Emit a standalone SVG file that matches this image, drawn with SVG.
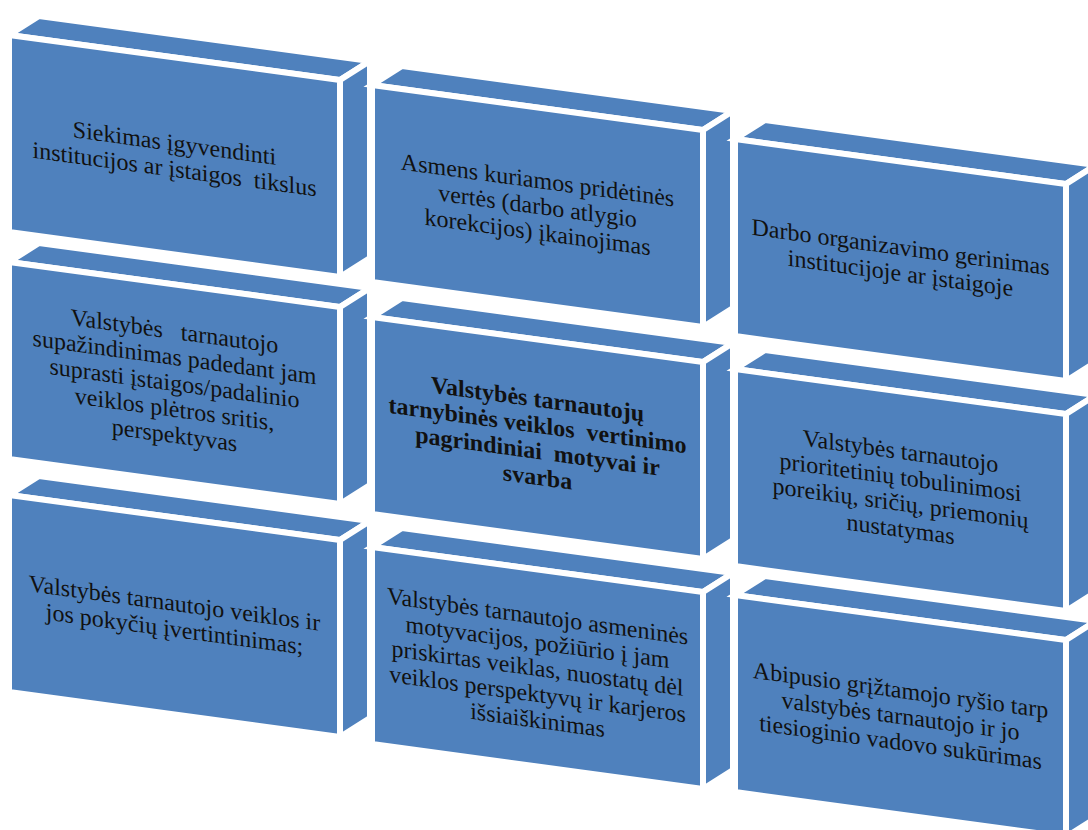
<svg xmlns="http://www.w3.org/2000/svg" xmlns:xlink="http://www.w3.org/1999/xlink" width="1088" height="830" viewBox="0 0 1088 830">
  <style>
    .face { fill: #4F81BD; stroke: #FFFFFF; stroke-width: 6; stroke-linejoin: miter; }
    .lbl { font-family: "Liberation Serif", "Times New Roman", serif; font-size: 24px; fill: #111111; text-anchor: middle; }
    .bold { font-weight: bold; }
  </style>
  <defs>
    <!-- 3D block: front face origin at its top-left corner, depth offset (30,-19) -->
    <g id="box">
      <polygon class="face" points="0,0 30,-19 361,26 331,45"/>
      <polygon class="face" points="331,45 361,26 361,223 331,242"/>
      <polygon class="face" points="0,0 331,45 331,242 0,197"/>
    </g>
  </defs>
  <rect width="1088" height="830" fill="#FFFFFF"/>

  <!-- row 1 -->
  <g id="node-1" transform="translate(9,35)">
    <use xlink:href="#box"/>
    <g transform="translate(165.5,121) skewY(7.74)">
      <text class="lbl"><tspan x="0" y="-5">Siekimas įgyvendinti</tspan><tspan x="0" y="21">institucijos ar įstaigos&#160; tikslus</tspan></text>
    </g>
  </g>
  <g id="node-2" transform="translate(372,85)">
    <use xlink:href="#box"/>
    <g transform="translate(165.5,121) skewY(7.74)">
      <text class="lbl"><tspan x="0" y="-18">Asmens kuriamos pridėtinės</tspan><tspan x="0" y="8">vertės (darbo atlygio</tspan><tspan x="0" y="34">korekcijos) įkainojimas</tspan></text>
    </g>
  </g>
  <g id="node-3" transform="translate(735,139)">
    <use xlink:href="#box"/>
    <g transform="translate(165.5,121) skewY(7.74)">
      <text class="lbl"><tspan x="0" y="-5">Darbo organizavimo gerinimas</tspan><tspan x="0" y="21">institucijoje ar įstaigoje</tspan></text>
    </g>
  </g>

  <!-- row 2 -->
  <g id="node-4" transform="translate(9,262)">
    <use xlink:href="#box"/>
    <g transform="translate(165.5,121) skewY(7.74)">
      <text class="lbl"><tspan x="0" y="-44">Valstybės&#160;&#160; tarnautojo</tspan><tspan x="0" y="-18">supažindinimas padedant jam</tspan><tspan x="0" y="8">suprasti įstaigos/padalinio</tspan><tspan x="0" y="34">veiklos plėtros sritis,</tspan><tspan x="0" y="60">perspektyvas</tspan></text>
    </g>
  </g>
  <g id="node-5" transform="translate(372,317)">
    <use xlink:href="#box"/>
    <g transform="translate(165.5,121) skewY(7.74)">
      <text class="lbl bold"><tspan x="0" y="-31">Valstybės tarnautojų</tspan><tspan x="0" y="-5">tarnybinės veiklos&#160; vertinimo</tspan><tspan x="0" y="21">pagrindiniai&#160; motyvai ir</tspan><tspan x="0" y="47">svarba</tspan></text>
    </g>
  </g>
  <g id="node-6" transform="translate(735,369)">
    <use xlink:href="#box"/>
    <g transform="translate(165.5,121) skewY(7.74)">
      <text class="lbl"><tspan x="0" y="-31">Valstybės tarnautojo</tspan><tspan x="0" y="-5">prioritetinių tobulinimosi</tspan><tspan x="0" y="21">poreikių, sričių, priemonių</tspan><tspan x="0" y="47">nustatymas</tspan></text>
    </g>
  </g>

  <!-- row 3 -->
  <g id="node-7" transform="translate(9,495)">
    <use xlink:href="#box"/>
    <g transform="translate(165.5,121) skewY(7.74)">
      <text class="lbl"><tspan x="0" y="-5">Valstybės tarnautojo veiklos ir</tspan><tspan x="0" y="21">jos pokyčių įvertintinimas;</tspan></text>
    </g>
  </g>
  <g id="node-8" transform="translate(372,547)">
    <use xlink:href="#box"/>
    <g transform="translate(165.5,121) skewY(7.74)">
      <text class="lbl"><tspan x="0" y="-44">Valstybės tarnautojo asmeninės</tspan><tspan x="0" y="-18">motyvacijos, požiūrio į jam</tspan><tspan x="0" y="8">priskirtas veiklas, nuostatų dėl</tspan><tspan x="0" y="34">veiklos perspektyvų ir karjeros</tspan><tspan x="0" y="60">išsiaiškinimas</tspan></text>
    </g>
  </g>
  <g id="node-9" transform="translate(735,595)">
    <use xlink:href="#box"/>
    <g transform="translate(165.5,121) skewY(7.74)">
      <text class="lbl"><tspan x="0" y="-18">Abipusio grįžtamojo ryšio tarp</tspan><tspan x="0" y="8">valstybės tarnautojo ir jo</tspan><tspan x="0" y="34">tiesioginio vadovo sukūrimas</tspan></text>
    </g>
  </g>
</svg>
